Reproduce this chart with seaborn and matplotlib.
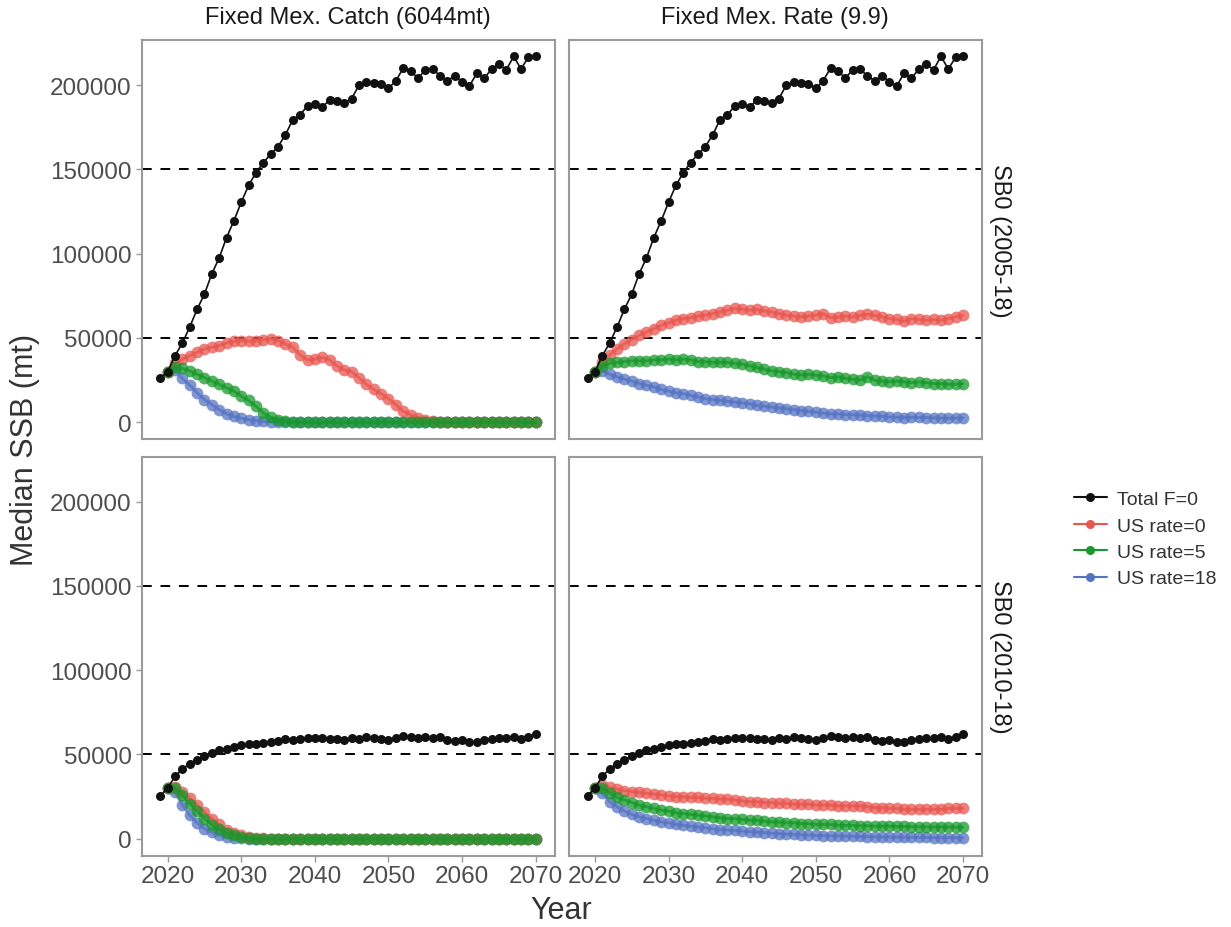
import matplotlib
matplotlib.use("Agg")
import matplotlib.pyplot as plt
from matplotlib.lines import Line2D
import seaborn as sns
import pandas as pd

# years
years_f0 = list(range(2019, 2071))
years_us = list(range(2020, 2071))

# Total F=0 (same in both Mex. columns)
f0_sb0_0518 = [26000, 30000, 39500, 47000, 56500, 67000, 76000, 88000, 97500, 109500,
               119500, 130500, 140500, 148000, 154000, 159000, 163500, 170500, 179500, 182500,
               187500, 189000, 187000, 191000, 190500, 189500, 192000, 200000, 201500, 201000,
               200500, 198000, 202500, 210000, 208500, 204000, 209000, 209500, 205500, 202500,
               205500, 202000, 199500, 207000, 204000, 209500, 212500, 209000, 217000, 209500,
               216500, 217500]
f0_sb0_1018 = [25500, 30000, 37000, 41500, 44500, 47000, 49000, 51000, 52500, 53500,
               54500, 55500, 56000, 56500, 57000, 57500, 58000, 59000, 58500, 59000,
               59500, 60000, 59500, 59000, 59000, 58500, 59500, 59000, 60500, 59500,
               59000, 58500, 59500, 61000, 60500, 60000, 60500, 59500, 60500, 58500,
               58000, 58500, 57500, 57500, 58500, 59000, 59500, 60000, 60500, 59000,
               60500, 62000]

# Fixed Mex. Catch, SB0 (2005-18)
catch_0518_us0 = [30000, 35000, 37500, 39500, 41500, 43500, 44500, 45500, 47000, 48000,
                  48500, 48000, 48500, 49000, 49500, 48500, 46500, 44500, 40000, 37000,
                  37500, 38500, 37000, 33500, 31000, 30000, 26500, 22500, 19500, 17000,
                  14000, 10500, 6500, 4500, 2800, 1400, 600, 200, 0, 0,
                  0, 0, 0, 0, 0, 0, 0, 0, 0, 0, 0]
catch_0518_us5 = [30000, 33000, 32000, 30500, 28500, 26500, 24500, 22500, 20500, 18500,
                  15500, 13000, 9500, 5500, 3000, 1500, 700, 300, 100, 0,
                  0, 0, 0, 0, 0, 0, 0, 0, 0, 0,
                  0, 0, 0, 0, 0, 0, 0, 0, 0, 0,
                  0, 0, 0, 0, 0, 0, 0, 0, 0, 0, 0]
catch_0518_us18 = [30000, 31000, 26000, 22000, 17500, 13500, 10500, 7500, 5000, 3500,
                   2400, 1500, 900, 500, 250, 100, 0, 0, 0, 0,
                   0, 0, 0, 0, 0, 0, 0, 0, 0, 0,
                   0, 0, 0, 0, 0, 0, 0, 0, 0, 0,
                   0, 0, 0, 0, 0, 0, 0, 0, 0, 0, 0]

# Fixed Mex. Rate, SB0 (2005-18)
rate_0518_us0 = [30000, 36000, 40000, 43500, 46500, 49000, 51500, 53500, 55500, 57500,
                 59000, 60500, 61500, 62000, 63000, 63500, 64500, 65500, 66500, 67500,
                 67000, 66500, 67000, 66000, 65500, 64500, 63500, 63000, 62500, 63000,
                 63500, 64500, 62000, 62500, 63000, 62500, 63500, 64000, 63500, 62500,
                 61500, 61000, 60000, 61500, 61000, 60500, 61000, 60500, 61500, 62500, 63500]
rate_0518_us5 = [30000, 33500, 35000, 35500, 36000, 36500, 36500, 36500, 37000, 37000,
                 37500, 37000, 37500, 37000, 36000, 36000, 35500, 35500, 35500, 35000,
                 34500, 33500, 32500, 31500, 30500, 30000, 29500, 28500, 28000, 28500,
                 28000, 27500, 26500, 27000, 26000, 25500, 25000, 27000, 25000, 24500,
                 24000, 24500, 24000, 23500, 24000, 23500, 23000, 23000, 22500, 22500, 23000]
rate_0518_us18 = [30000, 30500, 28500, 27000, 25500, 24500, 23000, 22000, 21000, 19500,
                  18500, 17500, 17000, 16000, 15000, 14000, 13500, 13000, 12500, 12000,
                  11500, 11000, 10000, 9500, 9000, 8500, 8000, 7500, 7000, 6500,
                  6000, 5500, 5000, 5000, 4500, 4500, 4300, 4000, 3800, 3500,
                  3200, 3000, 2800, 3000, 2900, 2800, 2700, 2500, 2400, 2500, 2600]

# Fixed Mex. Catch, SB0 (2010-18)
catch_1018_us0 = [30000, 31000, 28000, 24000, 20000, 16000, 12000, 8500, 5500, 3500,
                  2000, 1000, 500, 200, 0, 0, 0, 0, 0, 0,
                  0, 0, 0, 0, 0, 0, 0, 0, 0, 0,
                  0, 0, 0, 0, 0, 0, 0, 0, 0, 0,
                  0, 0, 0, 0, 0, 0, 0, 0, 0, 0, 0]
catch_1018_us5 = [30000, 30000, 25800, 20800, 16200, 11900, 8300, 5600, 3400, 2000,
                  800, 300, 100, 0, 0, 0, 0, 0, 0, 0,
                  0, 0, 0, 0, 0, 0, 0, 0, 0, 0,
                  0, 0, 0, 0, 0, 0, 0, 0, 0, 0,
                  0, 0, 0, 0, 0, 0, 0, 0, 0, 0, 0]
catch_1018_us18 = [30000, 28000, 20000, 14000, 9500, 6000, 3800, 2200, 1200, 600,
                   300, 100, 0, 0, 0, 0, 0, 0, 0, 0,
                   0, 0, 0, 0, 0, 0, 0, 0, 0, 0,
                   0, 0, 0, 0, 0, 0, 0, 0, 0, 0,
                   0, 0, 0, 0, 0, 0, 0, 0, 0, 0, 0]

# Fixed Mex. Rate, SB0 (2010-18)
rate_1018_us0 = [30000, 32000, 30500, 29500, 28500, 28000, 27500, 27000, 26500, 26000,
                 25500, 25000, 25000, 24500, 24500, 24000, 24000, 23500, 23500, 23000,
                 22500, 22000, 22000, 21500, 21500, 21000, 21000, 20500, 20500, 20500,
                 20000, 20000, 20000, 19500, 19500, 19500, 19500, 19000, 18500, 18500,
                 18000, 18000, 17500, 17500, 17500, 17500, 17500, 17500, 18000, 18000, 18000]
rate_1018_us5 = [30000, 30000, 27000, 24500, 23000, 21500, 20000, 19000, 18000, 17000,
                 16500, 15500, 15000, 14500, 14000, 13500, 13000, 12500, 12000, 12000,
                 11500, 11000, 11000, 10500, 10000, 10000, 9500, 9500, 9000, 9000,
                 8500, 8500, 8500, 8000, 8000, 8000, 7800, 7800, 7500, 7500,
                 7500, 7300, 7300, 7200, 7200, 7000, 7000, 7000, 6900, 6900, 6800]
rate_1018_us18 = [30000, 27000, 22000, 19000, 16500, 14500, 13000, 12000, 11000, 10000,
                  9500, 8500, 8000, 7500, 7000, 6500, 6000, 5500, 5200, 5000,
                  4500, 4200, 4000, 3600, 3300, 3000, 2800, 2600, 2400, 2200,
                  2000, 1900, 1800, 1700, 1600, 1500, 1400, 1300, 1200, 1100,
                  1000, 1000, 900, 900, 800, 800, 700, 700, 700, 600, 600]

col_labels = ["Fixed Mex. Catch (6044mt)", "Fixed Mex. Rate (9.9)"]
row_labels = ["SB0 (2005-18)", "SB0 (2010-18)"]
scenarios = ["Total F=0", "US rate=0", "US rate=5", "US rate=18"]
ref_points = [50000, 150000]

panel_series = {
    (0, 0): [f0_sb0_0518, catch_0518_us0, catch_0518_us5, catch_0518_us18],
    (0, 1): [f0_sb0_0518, rate_0518_us0, rate_0518_us5, rate_0518_us18],
    (1, 0): [f0_sb0_1018, catch_1018_us0, catch_1018_us5, catch_1018_us18],
    (1, 1): [f0_sb0_1018, rate_1018_us0, rate_1018_us5, rate_1018_us18],
}

# long table
rows = []
for (r, c), series in panel_series.items():
    for scen, vals in zip(scenarios, series):
        yrs = years_f0 if scen == "Total F=0" else years_us
        for y, v in zip(yrs, vals):
            rows.append({"Year": y, "SSB": v, "Scenario": scen,
                         "Mex": col_labels[c], "SB0": row_labels[r]})
df = pd.DataFrame(rows)

sns.set_theme(style="white")
plt.rcParams["font.family"] = ["Liberation Sans", "DejaVu Sans"]

colors = {"Total F=0": "#111111", "US rate=0": "#E8564F",
          "US rate=5": "#17992B", "US rate=18": "#5673C2"}
draw_order = ["US rate=18", "US rate=0", "US rate=5", "Total F=0"]

fig = plt.figure(figsize=(12.31, 9.28), dpi=100)
W, H = 1231, 928
lefts = [141.5 / W, 568.8 / W]
bottoms = [1 - 440 / H, 1 - 856.5 / H]
pw, ph = 413 / W, 399 / H

gray = "#9A9A9A"
for (r, c) in panel_series:
    ax = fig.add_axes([lefts[c], bottoms[r], pw, ph])
    sub = df[(df["Mex"] == col_labels[c]) & (df["SB0"] == row_labels[r])]
    for ref in ref_points:
        ax.axhline(ref, color="black", lw=1.4, ls=(0, (5, 4.5)), zorder=1)
    for scen in draw_order:
        d = sub[sub["Scenario"] == scen]
        if scen == "Total F=0":
            sns.lineplot(data=d, x="Year", y="SSB", ax=ax, color=colors[scen],
                         marker="o", markersize=6.5, markeredgewidth=0,
                         linewidth=1.2, estimator=None, zorder=5)
        else:
            sns.lineplot(data=d, x="Year", y="SSB", ax=ax, color=colors[scen],
                         marker="o", markersize=8.5, markeredgewidth=0,
                         linewidth=2, alpha=0.75, estimator=None, zorder=3)
    ax.set_xlim(2016.45, 2072.55)
    ax.set_ylim(-9900, 226700)
    ax.set_xticks([2020, 2030, 2040, 2050, 2060, 2070])
    ax.set_yticks([0, 50000, 100000, 150000, 200000])
    ax.set_xlabel("")
    ax.set_ylabel("")
    for s in ax.spines.values():
        s.set_color(gray)
        s.set_linewidth(1.5)
    ax.tick_params(axis="both", direction="out", length=4, width=1, color=gray,
                   labelsize=17.5, labelcolor="#4D4D4D", pad=3,
                   bottom=(r == 1), left=(c == 0),
                   labelbottom=(r == 1), labelleft=(c == 0))

# strip labels
for c, lab in enumerate(col_labels):
    fig.text(lefts[c] + pw / 2, 1 - 18 / H, lab, ha="center", va="center",
             fontsize=17, color="#1A1A1A")
for r, lab in enumerate(row_labels):
    fig.text(1000 / W, bottoms[r] + ph / 2, lab, ha="center", va="center",
             rotation=270, fontsize=17, color="#1A1A1A")

fig.text(25 / W, 1 - 450 / H, "Median SSB (mt)", rotation=90, ha="center", va="center",
         fontsize=22, color="#333333")
fig.text(561 / W, 1 - 911 / H, "Year", ha="center", va="center",
         fontsize=22, color="#333333")

handles = [Line2D([0], [0], color=colors[s], marker="o", markersize=6.5,
                  markeredgewidth=0, lw=1.5) for s in scenarios]
fig.legend(handles, scenarios, loc="center left",
           bbox_to_anchor=(1056 / W, 1 - 540 / H), frameon=False,
           fontsize=14, handlelength=1.7, handletextpad=0.55, labelspacing=0.45,
           labelcolor="#333333")

fig.savefig("out.png", dpi=100)
